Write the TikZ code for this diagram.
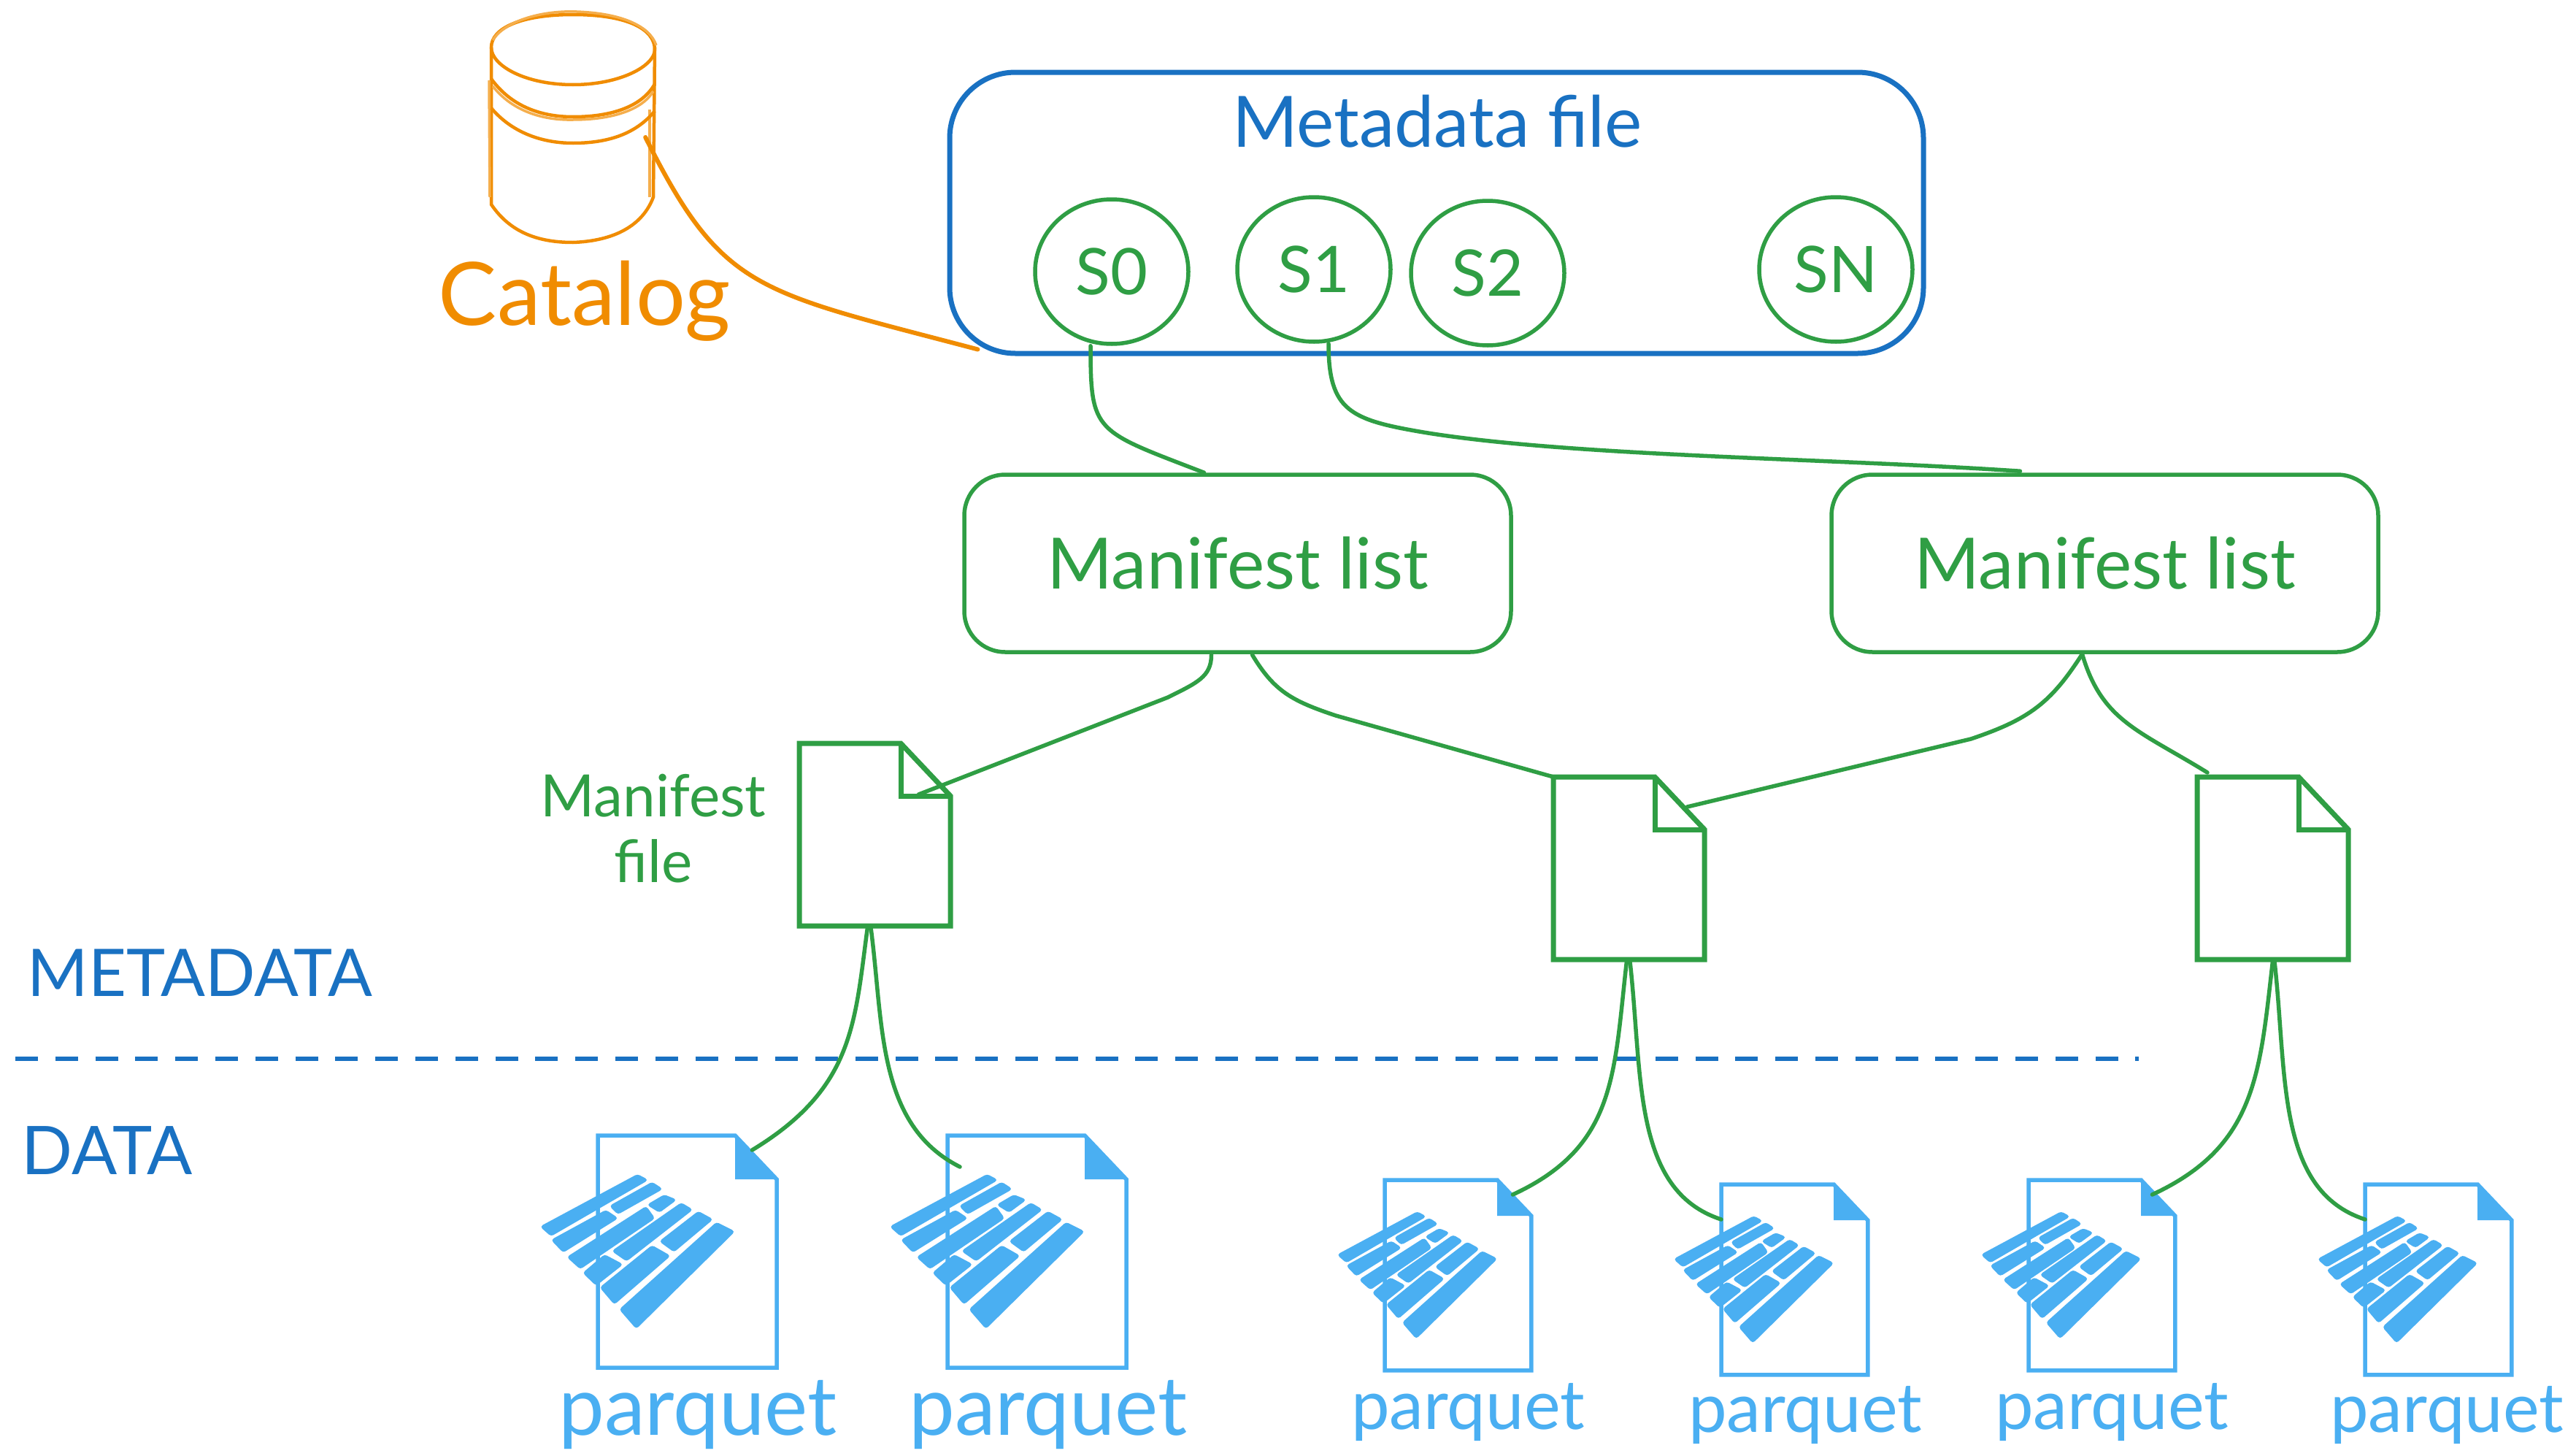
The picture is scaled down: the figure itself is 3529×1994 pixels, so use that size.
\documentclass[tikz,border=0pt]{standalone}
\usepackage{fontspec}
\setmainfont{Lato}
\usetikzlibrary{shapes.geometric}
\definecolor{exgreen}{HTML}{2F9E44}
\definecolor{exblue}{HTML}{1971C2}
\definecolor{exorange}{HTML}{F08C00}
\definecolor{exsky}{HTML}{4AAFF2}
\tikzset{
  conn/.style={draw=exgreen,line width=5.5pt,line cap=round},
  orangeconn/.style={draw=exorange,line width=6pt,line cap=round},
  metabox/.style={draw=exblue,line width=7pt,rounded corners=90pt,minimum width=1334pt,minimum height=385pt,inner sep=0pt},
  snap/.style={ellipse,draw=exgreen,line width=5.5pt,minimum width=210pt,minimum height=198pt,inner sep=0pt,text=exgreen,font=\fontsize{88}{88}\selectfont},
  listbox/.style={draw=exgreen,line width=5.5pt,rounded corners=56pt,minimum width=749pt,minimum height=243pt,inner sep=0pt,text=exgreen,font=\fontsize{97}{97}\selectfont},
  bluetext/.style={text=exblue,inner sep=0pt,font=\fontsize{#1}{#1}\selectfont},
  greentext/.style={text=exgreen,inner sep=0pt,align=center,font=\fontsize{80}{90}\selectfont},
  orangetext/.style={text=exorange,inner sep=0pt,font=\fontsize{120}{120}\selectfont},
  parqtext/.style={text=exsky,inner sep=0pt,font=\fontsize{#1}{#1}\selectfont},
  mfbox/.style={minimum width=207pt,minimum height=250pt,inner sep=0pt,anchor=north west},
  pqbox/.style={minimum width=#1,minimum height=1.298*#1,inner sep=0pt,anchor=north west},
  dbbox/.style={minimum width=224pt,minimum height=315pt,inner sep=0pt},
  brickrow/.style={fill=exsky,draw=exsky,line width=2.5pt,rounded corners=3pt},
  manifestdoc/.pic={
    \draw[exgreen,line width=7pt,line join=miter,fill=white] (0,0)--(139,0)--(207,72)--(207,250)--(0,250)--cycle;
    \draw[exgreen,line width=7pt] (139,0)--(139,72)--(207,72);
  },
  parquetdoc/.pic={
    \draw[exsky,line width=5.5pt,fill=white] (0,0)--(188,0)--(245,60)--(245,318)--(0,318)--cycle;
    \fill[exsky] (188,0)--(245,60)--(188,60)--cycle;
    \path[brickrow] (-77.3,125)--(54.3,54.3)--(67,61)--(-64,136.7)--cycle;
    \path[brickrow] (-62.3,143.3)--(11,103.3)--(26,113.3)--(-47.3,159)--cycle;
    \path[brickrow] (17.7,96.7)--(74.3,65)--(87,73.3)--(27.7,106.7)--cycle;
    \path[brickrow] (69.3,95)--(91,82.3)--(106,88.3)--(84.3,104.3)--cycle;
    \path[brickrow] (-40.7,166.7)--(66,98.3)--(76.7,113.3)--(-24,181.7)--cycle;
    \path[brickrow] (21,158.3)--(114.3,93.3)--(128.3,101.7)--(39.3,171)--cycle;
    \path[brickrow] (-19,188.3)--(9.3,164.3)--(32.7,176.7)--(-2.3,204.3)--cycle;
    \path[brickrow] (86,145)--(137.7,105)--(156,115)--(104.3,158.3)--cycle;
    \path[brickrow] (4.3,208.3)--(74.3,151.7)--(97.7,165)--(22.7,230)--cycle;
    \path[brickrow] (31,238.3)--(162.7,120)--(186,131.7)--(52.7,263.3)--cycle;
  },
}
\begin{document}
\begin{tikzpicture}[x=1pt,y=-1pt]
\useasboundingbox (0,0) rectangle (3529,1994);
\fill[white] (0,0) rectangle (3529,1994);

% catalog cylinder
\node[dbbox] (db) at (785,175) {};
\draw[exorange,line width=4.5pt] (785,20) .. controls (860,20) and (897,40) .. (897,68) .. controls (897,90) and (850,116) .. (785,116) .. controls (720,116) and (673,90) .. (673,65) .. controls (673,38) and (715,20) .. (785,20) -- cycle;
\draw[exorange!70,line width=3.5pt] (675,55) .. controls (690,30) and (740,14) .. (790,16) .. controls (850,18) and (890,35) .. (899,62);
\draw[exorange,line width=4.5pt] (673,65) -- (673,280) .. controls (700,320) and (740,332) .. (785,332) .. controls (840,330) and (880,310) .. (895,270) -- (897,65);
\draw[exorange!70,line width=3.5pt] (670,110) -- (671,270);
\draw[exorange!70,line width=3.5pt] (890,150) -- (890,270);
\draw[exorange,line width=4.5pt] (673,108) .. controls (700,145) and (740,160) .. (785,160) .. controls (840,160) and (880,145) .. (897,115);
\draw[exorange!70,line width=3.5pt] (675,118) .. controls (700,150) and (740,165) .. (785,164) .. controls (840,164) and (880,150) .. (895,125);
\draw[exorange,line width=4.5pt] (673,148) .. controls (700,180) and (740,196) .. (785,196) .. controls (830,196) and (870,185) .. (897,152);
\node[orangetext] (catlabel) at (801,412) {Catalog};

% metadata file
\node[metabox] (meta) at (1968,291.5) {};
\node[bluetext=97] (metalabel) at (1969,166) {Metadata file};
\node[snap] (s0) at (1523,372) {S0};
\node[snap] (s1) at (1800,369) {S1};
\node[snap] (s2) at (2038,374) {S2};
\node[snap] (sn) at (2515,369) {SN};

% manifest lists
\node[listbox] (ml1) at (1695.5,771.5) {Manifest list};
\node[listbox] (ml2) at (2883.5,771.5) {Manifest list};

% manifest files
\node[mfbox] (m1) at (1095,1018) {};
\node[mfbox] (m2) at (2128,1064) {};
\node[mfbox] (m3) at (3010,1064) {};
\pic at (m1.north west) {manifestdoc};
\pic at (m2.north west) {manifestdoc};
\pic at (m3.north west) {manifestdoc};
\node[greentext] (mflabel) at (895,1135) {Manifest\\file};

% layer labels and divider
\node[bluetext=90] (metatext) at (274,1332) {METADATA};
\node[bluetext=92] (datatext) at (147,1576) {DATA};
\coordinate (dl) at (21,1450);
\coordinate (dr) at (2930,1450);
\draw[exblue,line width=6.5pt,dash pattern=on 31pt off 23.8pt] (dl) -- (dr);

% parquet files
\node[pqbox=245pt] (d1) at (819,1555) {};
\node[pqbox=245pt] (d2) at (1298,1555) {};
\node[pqbox=203pt] (d3) at (1897,1616) {};
\node[pqbox=203pt] (d4) at (2358,1622) {};
\node[pqbox=203pt] (d5) at (2779,1616) {};
\node[pqbox=203pt] (d6) at (3240,1622) {};
\pic at (d1.north west) {parquetdoc};
\pic at (d2.north west) {parquetdoc};
\pic[scale=.82] at (d3.north west) {parquetdoc};
\pic[scale=.82] at (d4.north west) {parquetdoc};
\pic[scale=.82] at (d5.north west) {parquetdoc};
\pic[scale=.82] at (d6.north west) {parquetdoc};
\node[parqtext=112] (p1) at (956,1938) {parquet};
\node[parqtext=112] (p2) at (1436,1938) {parquet};
\node[parqtext=94] (p3) at (2011,1934) {parquet};
\node[parqtext=94] (p4) at (2473,1938) {parquet};
\node[parqtext=94] (p5) at (2893,1934) {parquet};
\node[parqtext=94] (p6) at (3352,1938) {parquet};

% connectors
\path[orangeconn] ([shift={(-13,13)}]db.east) .. controls +(106,212) and +(-303,-80) .. ([shift={(42,-9)}]meta.south west);
\path[conn] ([shift={(-29,0)}]s0.south) .. controls +(0,120) and +(-150,-58) .. ([shift={(-46,0)}]ml1.north);
\path[conn] ([shift={(20,0)}]s1.south) .. controls +(0,92) and +(-100,-17) .. (1950,592) .. controls +(200,33) and +(-267,-18) .. ([shift={(-116,-2)}]ml2.north);
\path[conn] ([shift={(-36,1)}]ml1.south) .. controls +(0,30) and +(40,-20) .. (1600,955) -- ([shift={(-44,70)}]m1.north east);
\path[conn] ([shift={(20,1)}]ml1.south) .. controls +(30,50) and +(-60,-20) .. (1830,980) -- (m2.north west);
\path[conn] ([shift={(-31,0)}]ml2.south) .. controls +(-43,67) and +(80,-27) .. (2700,1012) -- ([shift={(-24,41)}]m2.north east);
\path[conn] ([shift={(-31,0)}]ml2.south) .. controls +(27,92) and +(-94,-58) .. ([shift={(14,-6)}]m3.north west);
\path[conn] ([shift={(-10,0)}]m1.south) .. controls +(-18,133) and +(140,-85) .. ([shift={(-34,20)}]d1.north east);
\path[conn] ([shift={(-6,0)}]m1.south) .. controls +(18,133) and +(-115,-58) .. ([shift={(17,43)}]d2.north west);
\path[conn] ([shift={(-3,0)}]m2.south) .. controls +(-18,156) and +(143,-66) .. ([shift={(-28,20)}]d3.north east);
\path[conn] ([shift={(1,0)}]m2.south) .. controls +(18,156) and +(-123,-40) .. ([shift={(0,48)}]d4.north west);
\path[conn] ([shift={(0,0)}]m3.south) .. controls +(-18,156) and +(143,-66) .. ([shift={(-34,20)}]d5.north east);
\path[conn] ([shift={(2,0)}]m3.south) .. controls +(18,156) and +(-123,-40) .. ([shift={(0,48)}]d6.north west);
\end{tikzpicture}
\end{document}
